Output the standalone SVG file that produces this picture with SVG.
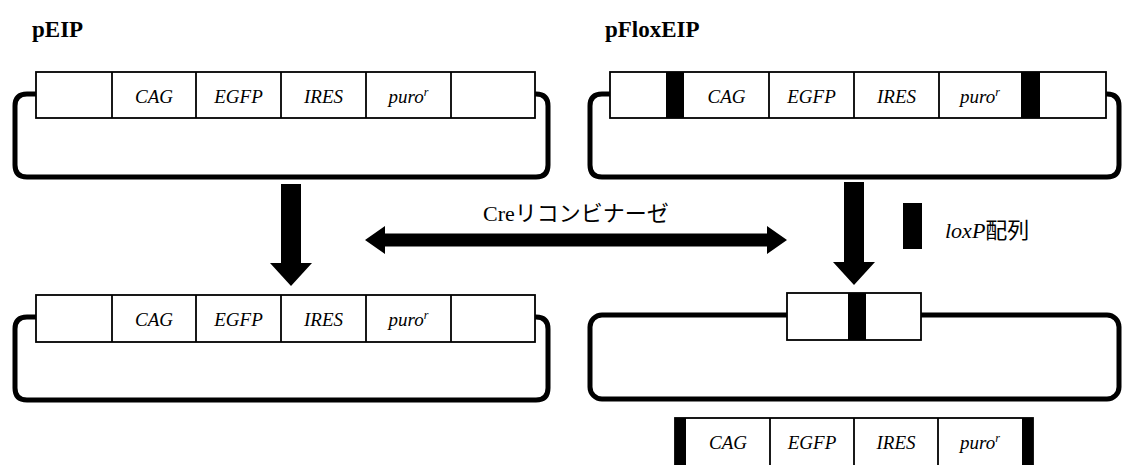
<svg xmlns="http://www.w3.org/2000/svg" width="1124" height="465" viewBox="0 0 1124 465">
<style>
.bg{fill:#fff}
.box{fill:#fff;stroke:#000;stroke-width:1.8}
.bar{fill:#000}
.bb{fill:none;stroke:#000;stroke-width:5;stroke-linejoin:round}
.div{stroke:#000;stroke-width:1.8}
.lbl{font-family:"Liberation Serif",serif;font-style:italic;font-size:19px;text-anchor:middle;fill:#000}
.sup{font-size:12px}
.title{font-family:"Liberation Serif",serif;font-weight:bold;font-size:23px;fill:#000}
.arrow{fill:#000}
.cre{font-family:"Liberation Serif","Noto Sans CJK JP",serif;font-size:22px;fill:#000}
.cjk{font-family:"Noto Sans CJK JP",sans-serif}
.it{font-style:italic}
</style>
<rect class="bg" x="0" y="0" width="1124" height="465"/>

<g id="pEIP">
  <text class="title" x="32" y="37">pEIP</text>
  <path class="bb" d="M36,94 H27 Q15,94 15,106 V165 Q15,177 27,177 H536 Q548,177 548,165 V106 Q548,94 536,94 H535"/>
  <rect class="box" x="36" y="72" width="499" height="46"/>
  <line class="div" x1="112" y1="72" x2="112" y2="118"/>
  <line class="div" x1="196" y1="72" x2="196" y2="118"/>
  <line class="div" x1="281" y1="72" x2="281" y2="118"/>
  <line class="div" x1="366" y1="72" x2="366" y2="118"/>
  <line class="div" x1="451" y1="72" x2="451" y2="118"/>
  <text class="lbl" x="154" y="103">CAG</text>
  <text class="lbl" x="238.5" y="103">EGFP</text>
  <text class="lbl" x="323.5" y="103">IRES</text>
  <text class="lbl" x="408.5" y="103">puro<tspan class="sup" dy="-7">r</tspan></text>
</g>

<g id="pFloxEIP">
  <text class="title" x="605" y="37">pFloxEIP</text>
  <path class="bb" d="M610,94 H602 Q590,94 590,106 V165 Q590,177 602,177 H1107 Q1119,177 1119,165 V106 Q1119,94 1107,94 H1106"/>
  <rect class="box" x="610" y="72" width="496" height="46"/>
  <rect class="bar" x="666" y="72" width="18" height="46"/>
  <rect class="bar" x="1021" y="72" width="19" height="46"/>
  <line class="div" x1="769" y1="72" x2="769" y2="118"/>
  <line class="div" x1="854" y1="72" x2="854" y2="118"/>
  <line class="div" x1="939" y1="72" x2="939" y2="118"/>
  <text class="lbl" x="726.5" y="103">CAG</text>
  <text class="lbl" x="811.5" y="103">EGFP</text>
  <text class="lbl" x="896.5" y="103">IRES</text>
  <text class="lbl" x="980" y="103">puro<tspan class="sup" dy="-7">r</tspan></text>
</g>

<g id="pEIP-after">
  <path class="bb" d="M36,317 H27 Q15,317 15,329 V388 Q15,400 27,400 H536 Q548,400 548,388 V329 Q548,317 536,317 H535"/>
  <rect class="box" x="36" y="295" width="499" height="47"/>
  <line class="div" x1="112" y1="295" x2="112" y2="342"/>
  <line class="div" x1="196" y1="295" x2="196" y2="342"/>
  <line class="div" x1="281" y1="295" x2="281" y2="342"/>
  <line class="div" x1="366" y1="295" x2="366" y2="342"/>
  <line class="div" x1="451" y1="295" x2="451" y2="342"/>
  <text class="lbl" x="154" y="326">CAG</text>
  <text class="lbl" x="238.5" y="326">EGFP</text>
  <text class="lbl" x="323.5" y="326">IRES</text>
  <text class="lbl" x="408.5" y="326">puro<tspan class="sup" dy="-7">r</tspan></text>
</g>

<g id="pFloxEIP-after">
  <rect class="bb" x="590" y="315" width="529" height="84" rx="12" ry="12"/>
  <rect class="box" x="787" y="293" width="134" height="47"/>
  <rect class="bar" x="848" y="293" width="18" height="47"/>
</g>

<g id="excised">
  <rect class="box" x="675" y="418" width="358" height="50"/>
  <rect class="bar" x="675" y="418" width="11" height="50"/>
  <rect class="bar" x="1022" y="418" width="11" height="50"/>
  <line class="div" x1="770" y1="418" x2="770" y2="468"/>
  <line class="div" x1="854" y1="418" x2="854" y2="468"/>
  <line class="div" x1="938" y1="418" x2="938" y2="468"/>
  <text class="lbl" x="728" y="449">CAG</text>
  <text class="lbl" x="812" y="449">EGFP</text>
  <text class="lbl" x="896" y="449">IRES</text>
  <text class="lbl" x="980" y="449">puro<tspan class="sup" dy="-7">r</tspan></text>
</g>

<g id="legend">
  <rect class="bar" x="903" y="203" width="19" height="46"/>
  <text class="cre" x="945" y="238"><tspan class="it">loxP</tspan><tspan class="cjk">配列</tspan></text>
</g>

<g id="connectors">
  <polygon class="arrow" points="281,184 301,184 301,263 312,263 291,286 270,263 281,263"/>
  <polygon class="arrow" points="844,182 864,182 864,262 875,262 854,285 833,262 844,262"/>
  <polygon class="arrow" points="365,240 385,226 385,233.5 767,233.5 767,226 787,240 767,254 767,246.5 385,246.5 385,254"/>
  <text class="cre" x="483" y="221">Cre<tspan class="cjk">リコンビナーゼ</tspan></text>
</g>
</svg>
